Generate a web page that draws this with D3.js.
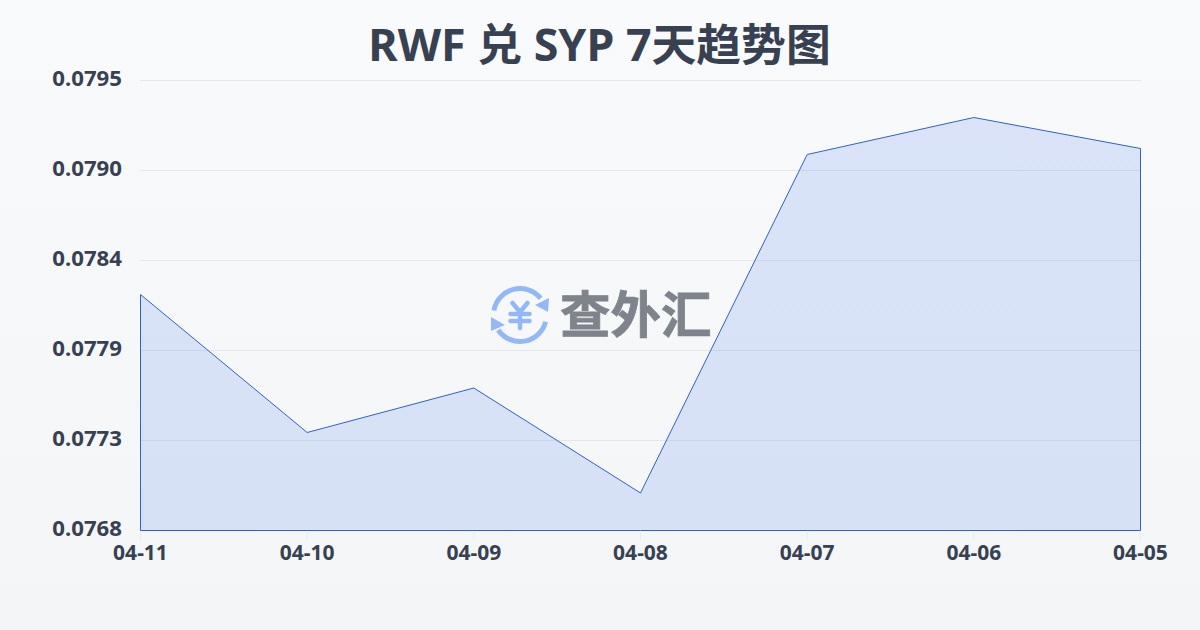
<!DOCTYPE html>
<html><head><meta charset="utf-8">
<script src="https://cdn.jsdelivr.net/npm/d3@7"></script>
<style>html,body{margin:0;padding:0;background:#f6f7f9}svg{display:block}text{font-family:"Noto Sans","Noto Sans CJK SC",sans-serif}</style>
</head><body><svg id="c" width="1200" height="630"></svg>
<script>
const titleText = "RWF 兑 SYP 7天趋势图";
const logoText = "查外汇";
const dates = ["04-11","04-10","04-09","04-08","04-07","04-06","04-05"];
const rates = [0.078216,0.077388,0.077655,0.077025,0.079056,0.079278,0.079092];
const yTicks = [0.0768,0.07734,0.07788,0.07842,0.07896,0.0795];

const svg = d3.select("#c");
const defs = svg.append("defs");
const bg = defs.append("linearGradient").attr("id","bg").attr("x1",0).attr("y1",0).attr("x2",0).attr("y2",1);
bg.append("stop").attr("offset",0).attr("stop-color","#f9fafc");
bg.append("stop").attr("offset",1).attr("stop-color","#f3f5f7");
svg.append("rect").attr("width",1200).attr("height",630).attr("fill","url(#bg)");

const x = d3.scalePoint().domain(dates).range([140.5,1140.5]);
const y = d3.scaleLinear().domain([0.0768,0.0795]).range([530.5,80.5]);

svg.append("text").attr("x",599.5).attr("y",61).attr("text-anchor","middle")
  .attr("font-size",44.8).attr("font-weight",700).attr("fill","#374151").text(titleText);

// grid
svg.append("g").selectAll("line").data(yTicks).join("line")
  .attr("x1",140).attr("x2",1141).attr("y1",d=>y(d)).attr("y2",d=>y(d))
  .attr("stroke","#e5e7eb").attr("stroke-width",1);

// y labels
svg.append("g").selectAll("text").data(yTicks).join("text")
  .attr("x",122).attr("y",d=>y(d)+5).attr("text-anchor","end")
  .attr("font-size",22.2).attr("font-weight",700).attr("fill","#374151")
  .text(d=>d3.format(".4f")(d));

// watermark logo
const logo = svg.append("g").attr("transform","translate(520,315)");
const blue = "#93b8f8";
const ring = d3.arc().innerRadius(26.5).outerRadius(26.5);
logo.selectAll("path.ring").data([[-1.4,0.89],[1.83,4.11]]).join("path").attr("class","ring")
  .attr("fill","none").attr("stroke",blue).attr("stroke-width",5).attr("stroke-linecap","round")
  .attr("d",d=>ring({startAngle:d[0],endAngle:d[1]}));
logo.append("path").attr("fill",blue).attr("d","M29,-17L28,-3L15,-10Z");
logo.append("path").attr("fill",blue).attr("d","M-29,2L-29,16L-15,10Z");
logo.append("path").attr("fill","none").attr("stroke",blue).attr("stroke-width",4.5).attr("stroke-linecap","round").attr("stroke-linejoin","round")
  .attr("d","M-7.5,-12L0,-3L7.5,-12M-9.5,-1H9.5M-9.5,6H9.5M0,-3V13");
svg.append("text").attr("x",560).attr("y",333).attr("font-size",50.5).attr("font-weight",700)
  .attr("fill","#7f848c").attr("stroke","#7f848c").attr("stroke-width",0.8).text(logoText);

// area + line
const area = d3.area().x((d,i)=>x(dates[i])).y0(y(0.0768)).y1(d=>y(d));
svg.append("path").datum(rates).attr("d",area).attr("fill","#2563eb").attr("fill-opacity",0.14).attr("stroke","#2f62c4").attr("stroke-width",1);

// x axis ticks and labels
const xg = svg.append("g").selectAll("g").data(dates).join("g").attr("transform",d=>`translate(${x(d)},0)`);
xg.append("line").attr("y1",532).attr("y2",540).attr("stroke","#e8eaee");
xg.append("text").attr("y",560).attr("text-anchor","middle").attr("font-size",21).attr("font-weight",700).attr("fill","#374151").text(d=>d);
</script></body></html>
